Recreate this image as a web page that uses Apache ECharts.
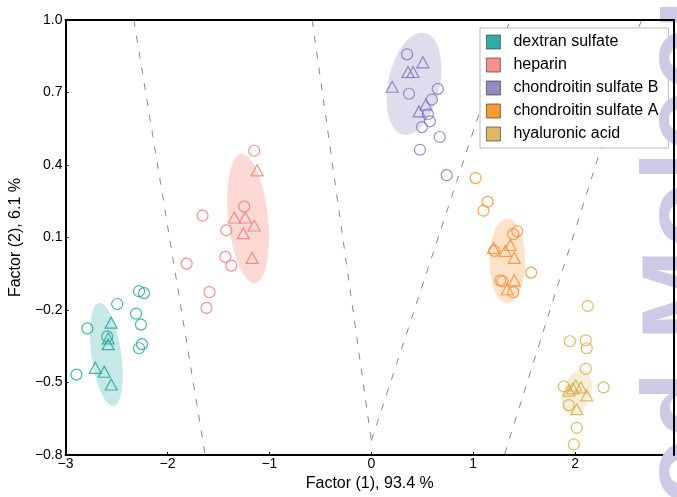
<!DOCTYPE html>
<html>
<head>
<meta charset="utf-8">
<script src="https://cdn.jsdelivr.net/npm/echarts@6/dist/echarts.min.js"></script>
<style>html,body{margin:0;padding:0;background:#fff}#chart{width:677px;height:497px}</style>
</head>
<body>
<div id="chart"></div>
<script>
// ---------- data ----------
const categories = ['dextran sulfate', 'heparin', 'chondroitin sulfate B', 'chondroitin sulfate A', 'hyaluronic acid'];
const colors = ['#1aa39a', '#f8766d', '#7b73b8', '#fb8a2c', '#d4aa40'];
const legendColors = ['#00998d', '#f8766d', '#7570b3', '#ff7f00', '#d4a83a'];

const dextranCircles = [[-2.279,-0.122],[-2.230,-0.130],[-2.493,-0.175],[-2.308,-0.215],[-2.260,-0.260],[-2.786,-0.276],[-2.591,-0.309],[-2.250,-0.341],[-2.279,-0.358],[-2.893,-0.467]];
const dextranTriangles = [[-2.552,-0.252],[-2.581,-0.317],[-2.581,-0.341],[-2.708,-0.439],[-2.620,-0.455],[-2.552,-0.508]];
const heparinCircles = [[-1.149,0.459],[-1.656,0.191],[-1.247,0.228],[-1.422,0.130],[-1.432,0.020],[-1.373,-0.016],[-1.812,-0.008],[-1.588,-0.126],[-1.617,-0.191]];
const heparinTriangles = [[-1.120,0.378],[-1.344,0.183],[-1.237,0.183],[-1.149,0.150],[-1.256,0.118],[-1.169,0.016]];
const csBCircles = [[0.351,0.858],[0.370,0.695],[0.653,0.715],[0.594,0.671],[0.555,0.610],[0.575,0.581],[0.497,0.557],[0.672,0.516],[0.477,0.463],[0.740,0.358]];
const csBTriangles = [[0.506,0.825],[0.360,0.785],[0.409,0.785],[0.205,0.724],[0.536,0.650],[0.468,0.622]];
const csACircles = [[1.023,0.346],[1.140,0.248],[1.101,0.211],[1.432,0.126],[1.393,0.114],[1.208,0.045],[1.568,-0.045],[1.266,-0.077],[1.286,-0.081],[1.393,-0.126]];
const csATriangles = [[1.198,0.057],[1.364,0.069],[1.315,0.045],[1.403,0.016],[1.403,-0.077],[1.334,-0.114]];
const haCircles = [[2.123,-0.183],[1.948,-0.329],[2.104,-0.325],[2.114,-0.358],[2.104,-0.443],[1.890,-0.516],[2.279,-0.520],[1.938,-0.593],[2.016,-0.687],[1.987,-0.756]];
const haTriangles = [[2.006,-0.512],[2.055,-0.520],[1.938,-0.533],[2.114,-0.553],[2.016,-0.610],[1.977,-0.524]];

// confidence ellipses: centre, half-width (x units), half-height (y units), tilt (deg)
const ellipseCenterX = [-2.600, -1.208, 0.419, 1.334, 2.016];
const ellipseCenterY = [-0.384, 0.179, 0.736, 0.004, -0.541];
const ellipseHalfW = [0.146, 0.195, 0.253, 0.175, 0.136];
const ellipseHalfH = [0.215, 0.268, 0.215, 0.175, 0.098];
const ellipseTilt = [-8, -6, 12, 0, 18];
const ellipseOpacity = [0.25, 0.28, 0.25, 0.25, 0.2];

// discriminant boundaries
const boundaryLines = [
  [[-2.33, 1.0], [-1.63, -0.8]],
  [[-0.58, 1.0], [0.0, -0.74]],
  [[0.0, -0.74], [1.36, 1.0]],
  [[2.65, 1.0], [1.305, -0.8]]
];

const xTicks = [-3, -2, -1, 0, 1, 2];
const yTicks = [-0.8, -0.5, -0.2, 0.1, 0.4, 0.7, 1.0];

// ---------- chart ----------
const groups = [
  [dextranCircles, dextranTriangles],
  [heparinCircles, heparinTriangles],
  [csBCircles, csBTriangles],
  [csACircles, csATriangles],
  [haCircles, haTriangles]
];

function hexToRgba(h, a) {
  const r = parseInt(h.slice(1,3),16), g = parseInt(h.slice(3,5),16), b = parseInt(h.slice(5,7),16);
  return 'rgba(' + r + ',' + g + ',' + b + ',' + a + ')';
}

const series = [];
series.push({
  type: 'custom',
  name: 'ellipses',
  z: 1,
  silent: true,
  data: ellipseCenterX.map((cx, i) => [cx, ellipseCenterY[i], ellipseHalfW[i], ellipseHalfH[i], ellipseTilt[i], i]),
  encode: { x: 0, y: 1 },
  renderItem: function (params, api) {
    const c = api.coord([api.value(0), api.value(1)]);
    const rx = api.size([api.value(2), 0])[0];
    const ry = api.size([0, api.value(3)])[1];
    const a = api.value(4) * Math.PI / 180;
    const i = api.value(5);
    const pts = [];
    for (let k = 0; k < 72; k++) {
      const t = k / 72 * Math.PI * 2;
      const lx = rx * Math.cos(t), ly = ry * Math.sin(t);
      pts.push([c[0] + lx * Math.cos(a) - ly * Math.sin(a), c[1] + lx * Math.sin(a) + ly * Math.cos(a)]);
    }
    return { type: 'polygon', shape: { points: pts }, style: { fill: hexToRgba(colors[i], ellipseOpacity[i]) } };
  }
});

boundaryLines.forEach(seg => {
  series.push({
    type: 'line', data: seg, symbol: 'none', silent: true, z: 2,
    lineStyle: { color: '#8a8a8a', width: 1, type: [7, 9] }
  });
});

groups.forEach((g, i) => {
  series.push({
    type: 'scatter', name: categories[i], data: g[0], symbol: 'circle', symbolSize: 11, z: 3,
    itemStyle: { color: 'rgba(0,0,0,0)', borderColor: colors[i], borderWidth: 1.2 }
  });
  series.push({
    type: 'scatter', name: categories[i], data: g[1], symbol: 'triangle', symbolSize: [12, 11], z: 3,
    itemStyle: { color: 'rgba(0,0,0,0)', borderColor: colors[i], borderWidth: 1.2 }
  });
});

const fmtMinus = s => s.replace('-', '\u2212');
const FONT = '"Liberation Sans", Arial, sans-serif';

const option = {
  animation: false,
  backgroundColor: '#fff',
  grid: { left: 62, right: 2, top: 20, bottom: 34 },
  legend: {
    orient: 'vertical', left: 480, top: 28, width: 176,
    padding: [6, 10, 6, 6],
    backgroundColor: '#fff', borderColor: '#bbbbbb', borderWidth: 1, borderRadius: 0,
    itemWidth: 14, itemHeight: 14, itemGap: 7,
    textStyle: { fontSize: 16, fontFamily: FONT, color: '#000', lineHeight: 16, padding: [0, 0, 0, 8] },
    data: categories.map((c, i) => ({ name: c, icon: 'rect', itemStyle: { color: legendColors[i], borderColor: '#333', borderWidth: 0.8 } })),
    selectedMode: false
  },
  xAxis: [{
    type: 'value', min: xTicks[0], max: 2.97, interval: 1,
    name: 'Factor (1), 93.4 %', nameLocation: 'middle', nameGap: 17,
    nameTextStyle: { fontSize: 16, fontFamily: FONT, color: '#000' },
    axisLine: { onZero: false, lineStyle: { color: '#000', width: 2 } },
    axisTick: { inside: true, length: 3, lineStyle: { color: '#000' } },
    axisLabel: { fontSize: 14, fontFamily: FONT, color: '#000', margin: 2,
      formatter: v => xTicks.includes(v) ? fmtMinus(String(v)) : '' },
    splitLine: { show: false }
  }, {
    type: 'value', position: 'top', min: xTicks[0], max: 2.97, z: 10,
    axisLine: { show: true, onZero: false, lineStyle: { color: '#000', width: 2 } },
    axisTick: { show: false }, axisLabel: { show: false }, splitLine: { show: false }
  }],
  yAxis: [{
    type: 'value', min: yTicks[0], max: yTicks[yTicks.length - 1], interval: 0.3,
    name: 'Factor (2), 6.1 %', nameLocation: 'middle', nameGap: 35,
    nameTextStyle: { fontSize: 16, fontFamily: FONT, color: '#000' },
    axisLine: { show: true, onZero: false, lineStyle: { color: '#000', width: 2 } },
    axisTick: { show: true, inside: true, length: 3, lineStyle: { color: '#000' } },
    axisLabel: { fontSize: 14, fontFamily: FONT, color: '#000', margin: 3,
      formatter: v => fmtMinus(v.toFixed(1)) },
    splitLine: { show: false }
  }, {
    type: 'value', position: 'right', min: yTicks[0], max: yTicks[yTicks.length - 1], z: 10,
    axisLine: { show: true, onZero: false, lineStyle: { color: '#000', width: 2 } },
    axisTick: { show: false }, axisLabel: { show: false }, splitLine: { show: false }
  }],
  graphic: [{
    type: 'text', z: 5, silent: true,
    x: 743, y: 640, rotation: Math.PI / 2,
    style: { text: 'Food Molecules', fill: '#cdcae5', font: 'bold 110px "Liberation Sans", Arial, sans-serif',
      align: 'left', verticalAlign: 'bottom' }
  }],
  series: series
};

const chart = echarts.init(document.getElementById('chart'), null, { renderer: 'canvas' });
chart.setOption(option);
</script>
</body>
</html>
